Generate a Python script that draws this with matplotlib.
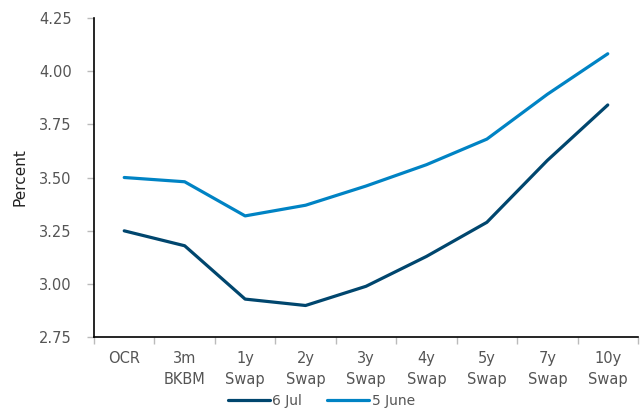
import matplotlib
matplotlib.use("Agg")
import matplotlib.pyplot as plt
import numpy as np

# NZ wholesale rates curve
tenors = ["OCR", "3m\nBKBM", "1y\nSwap", "2y\nSwap", "3y\nSwap",
          "4y\nSwap", "5y\nSwap", "7y\nSwap", "10y\nSwap"]
jul_6 = [3.25, 3.18, 2.93, 2.90, 2.99, 3.13, 3.29, 3.58, 3.84]
june_5 = [3.50, 3.48, 3.32, 3.37, 3.46, 3.56, 3.68, 3.89, 4.08]

plt.rcParams['font.family'] = ['DejaVu Sans']

fig = plt.figure(figsize=(6.43, 4.08), dpi=100)
ax = fig.add_axes([0.1462, 0.1728, 0.8460, 0.7843])

x = np.arange(len(tenors))
ax.plot(x, jul_6, color="#00466e", lw=2.3, label="6 Jul", solid_capstyle="round")
ax.plot(x, june_5, color="#0083c4", lw=2.3, label="5 June", solid_capstyle="round")

ax.set_xlim(-0.5, len(tenors) - 0.5)
ax.set_ylim(2.75, 4.25)
ax.set_yticks(np.arange(2.75, 4.26, 0.25))
ax.set_yticklabels([f"{v:.2f}" for v in np.arange(2.75, 4.26, 0.25)])

ax.set_xticks(x)
ax.set_xticklabels(tenors, linespacing=1.45)
ax.set_xticks(np.arange(-0.5, len(tenors)), minor=True)
ax.tick_params(axis="x", which="major", length=0, pad=10, labelsize=10.5, labelcolor="#555555")
ax.tick_params(axis="x", which="minor", length=5, color="#bbbbbb", width=1)
ax.tick_params(axis="y", length=5, color="#bbbbbb", width=1, pad=11, labelsize=10.5,
               labelcolor="#555555")

for side in ("top", "right"):
    ax.spines[side].set_visible(False)
for side in ("left", "bottom"):
    ax.spines[side].set_color("black")
    ax.spines[side].set_linewidth(1.2)

ax.set_ylabel("Percent", fontsize=11, color="#222222", labelpad=8)

fig.legend(loc="lower center", bbox_to_anchor=(0.5, -0.03), ncol=2, frameon=False,
           fontsize=10, labelcolor="#555555", handlelength=3.0, handletextpad=0.2,
           columnspacing=1.8)

plt.savefig("out.png", dpi=100)
